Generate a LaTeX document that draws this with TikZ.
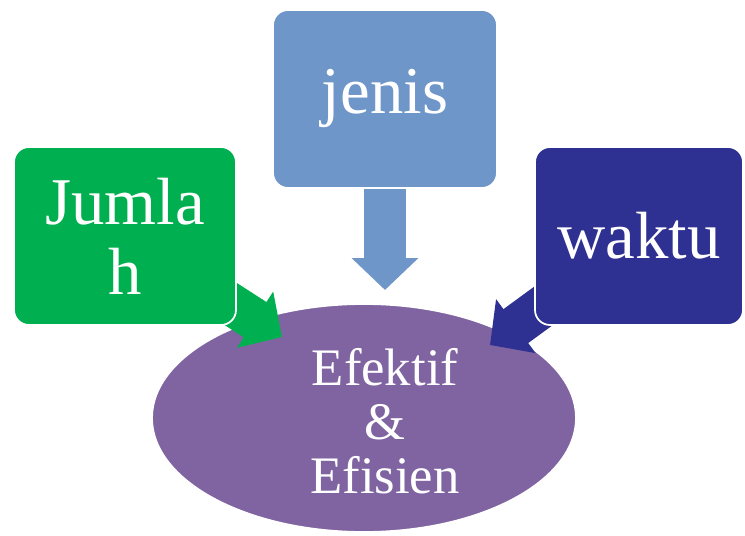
\documentclass[tikz,border=0pt]{standalone}
\usepackage{fontspec}
\setmainfont{Liberation Serif}
\usetikzlibrary{arrows.meta,shapes.geometric}

\pgfdeclarelayer{bottom}
\pgfdeclarelayer{middle}
\pgfsetlayers{bottom,middle,main}

\definecolor{hijau}{HTML}{00B050}
\definecolor{biru}{HTML}{6F96C9}
\definecolor{nila}{HTML}{2E3192}
\definecolor{ungu}{HTML}{8064A2}

\begin{document}
\begin{tikzpicture}[
  kotak/.style={draw=white, line width=1pt, rounded corners=0.3cm, minimum width=4.44cm, minimum height=3.56cm, inner sep=0pt, text=white, align=center, font=\fontsize{38}{39.7}\selectfont},
  panah/.style={line width=0.84cm, -{Triangle[width=1.3cm,length=0.64cm]}}
]
\useasboundingbox (0,0) rectangle (14.9,10.7);

%%%%% Ellipse at the bottom
\begin{pgfonlayer}{bottom}
\node [ellipse, fill=ungu, draw=white, line width=1pt, inner sep=0pt, minimum width=8.48cm, minimum height=4.56cm] (tujuan) at (7.28,2.34) {};
\node [text=white, align=center, font=\fontsize{30}{30.6}\selectfont] (tujuanteks) at (7.70,2.28) {Efektif\\ \&\\ Efisien};
\end{pgfonlayer}

%%%%% Three boxes
\node [kotak, fill=hijau] (jumlah) at (2.5,5.98) {Jumla\\ h};
\node [kotak, fill=biru, minimum width=4.48cm] (jenis) at (7.7,8.72) {jenis};
\node [kotak, fill=nila, minimum width=4.16cm] (waktu) at (12.78,5.98) {waktu};

%%%%% Block arrows, under the boxes
\coordinate (ujungjumlah) at (5.64,3.96);
\coordinate (ujungjenis) at (7.70,4.90);
\coordinate (ujungwaktu) at (9.80,3.80);

\begin{pgfonlayer}{middle}
\draw [panah, color=hijau] (jumlah.center) -- (ujungjumlah);
\draw [panah, color=biru] (jenis.center) -- (ujungjenis);
\draw [panah, color=nila] (waktu.center) -- (ujungwaktu);
\end{pgfonlayer}

\end{tikzpicture}
\end{document}
